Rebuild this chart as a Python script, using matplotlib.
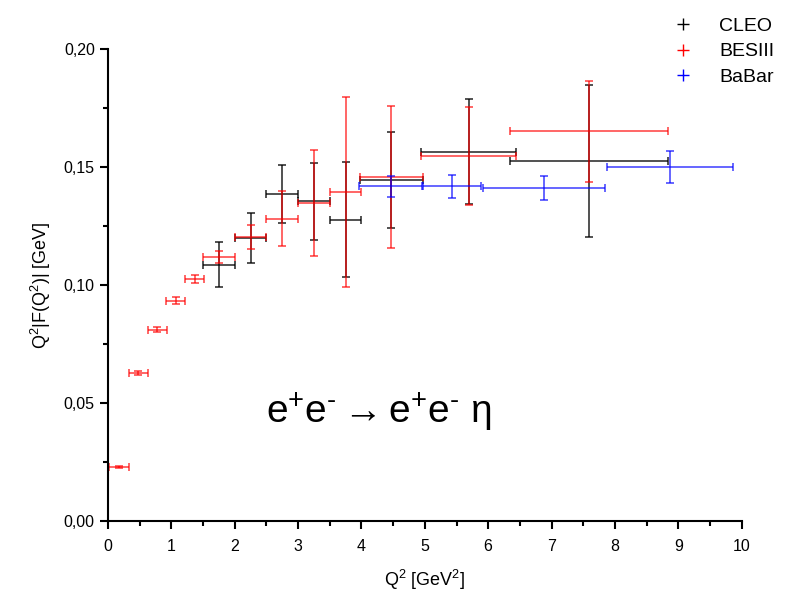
import matplotlib
matplotlib.use("Agg")
import matplotlib.pyplot as plt
from matplotlib.lines import Line2D
from matplotlib.ticker import FuncFormatter, MultipleLocator

plt.rcParams["font.family"] = ["Liberation Sans", "DejaVu Sans"]
plt.rcParams["mathtext.fontset"] = "custom"
plt.rcParams["mathtext.rm"] = "Liberation Sans"
plt.rcParams["mathtext.it"] = "Liberation Sans"

# ==========================================
# Data
# ==========================================

cleo_x = [1.75, 2.25, 2.75, 3.25, 3.75, 4.47, 5.69, 7.59]
cleo_y = [0.1087, 0.1199, 0.1386, 0.1356, 0.1277, 0.1444, 0.1566, 0.1526]
cleo_xerr = [0.25, 0.25, 0.25, 0.25, 0.25, 0.5, 0.75, 1.25]
cleo_yerr = [0.0096, 0.0105, 0.0122, 0.0163, 0.0243, 0.0203, 0.0222, 0.0324]

bes_x = [0.17, 0.48, 0.78, 1.07, 1.37, 1.75, 2.25, 2.75, 3.25, 3.75, 4.47, 5.69, 7.59]
bes_y = [0.0229, 0.0626, 0.0811, 0.0934, 0.1025, 0.1118, 0.1203, 0.1281,
         0.1347, 0.1394, 0.1458, 0.1546, 0.1652]
bes_xerr = [0.155, 0.15, 0.15, 0.15, 0.15, 0.25, 0.25, 0.25, 0.25, 0.25, 0.5, 0.75, 1.25]
bes_yerr = [0.0005, 0.0008, 0.001, 0.0014, 0.0018, 0.0025, 0.005, 0.0117,
            0.0225, 0.0403, 0.0299, 0.0207, 0.0213]

babar_x = [4.46, 5.43, 6.88, 8.87]
babar_y = [0.1418, 0.1418, 0.1413, 0.1499]
babar_xerr = [0.5, 0.46, 0.96, 1.0]
babar_yerr = [0.0043, 0.0048, 0.0051, 0.0068]

series = [
    ("CLEO", cleo_x, cleo_y, cleo_xerr, cleo_yerr, "black", 0.8),
    ("BESIII", bes_x, bes_y, bes_xerr, bes_yerr, "red", 0.7),
    ("BaBar", babar_x, babar_y, babar_xerr, babar_yerr, "blue", 0.7),
]

# ==========================================
# Plot
# ==========================================

fig = plt.figure(figsize=(7.96, 5.98), dpi=100)
ax = fig.add_axes([0.1357, 0.1288, 0.796, 0.789])

handles = []
for name, x, y, xe, ye, col, a in series:
    ax.errorbar(x, y, xerr=xe, yerr=ye, fmt="none", ecolor=col,
                elinewidth=1.2, capsize=3, capthick=1.2, alpha=a)
    handles.append(Line2D([], [], color=col, marker="+", linestyle="none",
                          markersize=8, markeredgewidth=1, label=name))

ax.set_xlim(0, 10)
ax.set_ylim(0, 0.20)
ax.xaxis.set_major_locator(MultipleLocator(1))
ax.xaxis.set_minor_locator(MultipleLocator(0.5))
ax.yaxis.set_major_locator(MultipleLocator(0.05))
ax.yaxis.set_minor_locator(MultipleLocator(0.025))
ax.yaxis.set_major_formatter(FuncFormatter(lambda v, p: f"{v:.2f}".replace(".", ",")))

for s in ["top", "right"]:
    ax.spines[s].set_visible(False)
for s in ["left", "bottom"]:
    ax.spines[s].set_linewidth(1.5)
ax.tick_params(which="major", direction="out", length=6, width=1.5, labelsize=11.5)
ax.tick_params(axis="x", which="major", pad=7)
ax.tick_params(which="minor", direction="out", length=3.5, width=1.5)

ax.set_xlabel(r"Q$^2$ [GeV$^2$]", fontsize=13, labelpad=10)
ax.set_ylabel(r"Q$^2$|F(Q$^2$)| [GeV]", fontsize=13, labelpad=8)

ax.text(2.5, 0.0412,
        r"$\mathregular{e^{+}e^{\text{-}} \rightarrow e^{+}e^{\text{-}}\ \eta}$",
        fontsize=28, ha="left", va="baseline")

fig.legend(handles=handles, loc="upper right", bbox_to_anchor=(0.995, 1.0),
           frameon=False, fontsize=14, handlelength=1.5, handletextpad=1.1,
           labelspacing=0.4)

fig.savefig("out.png", dpi=100)
